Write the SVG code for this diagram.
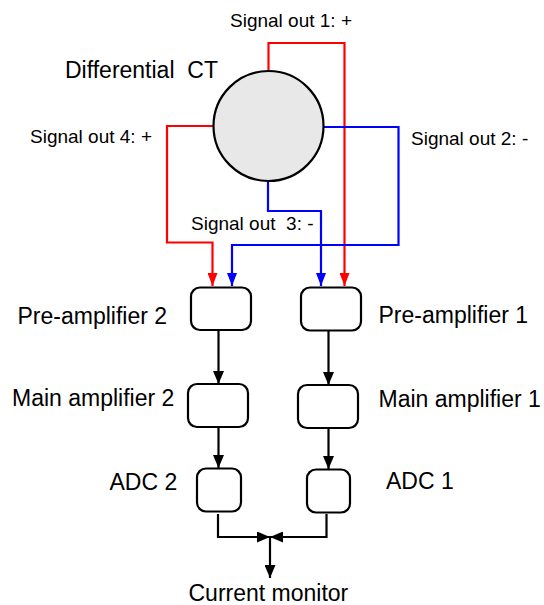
<svg xmlns="http://www.w3.org/2000/svg" width="544" height="605" viewBox="0 0 544 605">
<style>
text{font-family:"Liberation Sans",Arial,sans-serif;fill:#000}
.big{font-size:23px}
.sm{font-size:19px}
.box{fill:#fff;stroke:#000;stroke-width:2.2}
.c{fill:none;stroke-width:2.2}
.r{stroke:#ff0000}
.b{stroke:#0000ff}
.k{stroke:#000}
</style>
<defs>
<marker id="ar" viewBox="0 0 13 10" refX="13" refY="5" markerWidth="13" markerHeight="10" markerUnits="userSpaceOnUse" orient="auto"><path d="M0,0L13,5L0,10z" fill="#ff0000"/></marker>
<marker id="ab" viewBox="0 0 13 10" refX="13" refY="5" markerWidth="13" markerHeight="10" markerUnits="userSpaceOnUse" orient="auto"><path d="M0,0L13,5L0,10z" fill="#0000ff"/></marker>
<marker id="ak" viewBox="0 0 13 11" refX="13" refY="5.5" markerWidth="13" markerHeight="11" markerUnits="userSpaceOnUse" orient="auto"><path d="M0,0L13,5.5L0,11z" fill="#000"/></marker>
</defs>
<g id="connectors">
<path class="c r" d="M268.5 71V43H344.5V286" marker-end="url(#ar)"/>
<path class="c r" d="M213.5 126H167V242.5H212.5V286" marker-end="url(#ar)"/>
<path class="c b" d="M323.5 127H398.5V245H232V286" marker-end="url(#ab)"/>
<path class="c b" d="M268 181V211H321V286" marker-end="url(#ab)"/>
<path class="c k" d="M218.5 330V384" marker-end="url(#ak)"/>
<path class="c k" d="M218.5 427V468" marker-end="url(#ak)"/>
<path class="c k" d="M328.5 331V385" marker-end="url(#ak)"/>
<path class="c k" d="M328.5 428V469" marker-end="url(#ak)"/>
<path class="c k" d="M218 514V537H270" marker-end="url(#ak)"/>
<path class="c k" d="M326.5 514V537H270" marker-end="url(#ak)"/>
<path class="c k" d="M270 537V578" marker-end="url(#ak)"/>
</g>
<g id="ct">
<circle cx="268.5" cy="126" r="55" fill="#e8e8e8" stroke="#000" stroke-width="2.2"/>
<text class="big" x="65" y="77.5" xml:space="preserve">Differential  CT</text>
</g>
<g id="labels">
<text class="sm" x="230" y="27">Signal out 1: +</text>
<text class="sm" x="411" y="145">Signal out 2: -</text>
<text class="sm" x="191" y="230" xml:space="preserve">Signal out  3: -</text>
<text class="sm" x="30" y="142.5">Signal out 4: +</text>
</g>
<g id="preamp2"><rect class="box" x="191" y="287.5" width="60" height="42.5" rx="9"/><text class="big" x="17.5" y="323.5">Pre-amplifier 2</text></g>
<g id="preamp1"><rect class="box" x="301" y="287.5" width="60" height="43" rx="9"/><text class="big" x="378.5" y="322.5">Pre-amplifier 1</text></g>
<g id="mainamp2"><rect class="box" x="188" y="384" width="60" height="43" rx="9"/><text class="big" x="12" y="406">Main amplifier 2</text></g>
<g id="mainamp1"><rect class="box" x="298" y="385" width="60" height="43" rx="9"/><text class="big" x="378.5" y="406.5">Main amplifier 1</text></g>
<g id="adc2"><rect class="box" x="197" y="468.5" width="44" height="43" rx="9"/><text class="big" x="109.5" y="490">ADC 2</text></g>
<g id="adc1"><rect class="box" x="307" y="469.5" width="43" height="43" rx="9"/><text class="big" x="386" y="489">ADC 1</text></g>
<g id="monitor"><text class="big" x="188.5" y="601">Current monitor</text></g>
</svg>
